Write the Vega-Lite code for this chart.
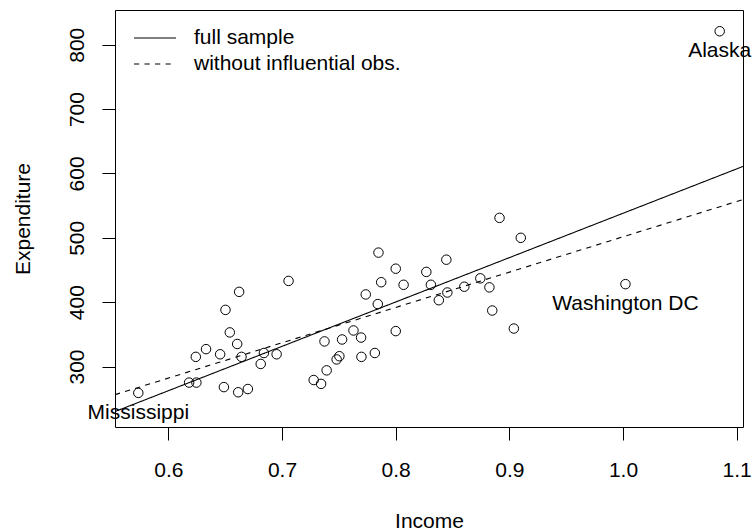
{
  "$schema": "https://vega.github.io/schema/vega-lite/v6.json",
  "width": 628,
  "height": 417,
  "autosize": {"type": "none"},
  "padding": {"left": 115, "top": 10, "right": 12, "bottom": 103},
  "background": "white",
  "config": {
    "font": "Liberation Sans",
    "view": {"stroke": "black", "strokeWidth": 1},
    "axis": {
      "domain": false,
      "grid": false,
      "tickColor": "black",
      "tickSize": 13,
      "tickWidth": 1,
      "labelColor": "black",
      "labelFontSize": 21,
      "titleFontSize": 21,
      "titleFontWeight": "normal",
      "titleColor": "black",
      "labelPadding": 19
    }
  },
  "datasets": {
    "states": [
      {"Income": 0.5736, "Expenditure": 259, "label": "Mississippi"},
      {"Income": 0.7058, "Expenditure": 433},
      {"Income": 0.6623, "Expenditure": 416},
      {"Income": 0.6503, "Expenditure": 388},
      {"Income": 0.6541, "Expenditure": 353},
      {"Income": 0.6606, "Expenditure": 335},
      {"Income": 0.6332, "Expenditure": 327},
      {"Income": 0.6242, "Expenditure": 315},
      {"Income": 0.6456, "Expenditure": 319},
      {"Income": 0.6644, "Expenditure": 315},
      {"Income": 0.6841, "Expenditure": 321},
      {"Income": 0.6953, "Expenditure": 319},
      {"Income": 0.6813, "Expenditure": 304},
      {"Income": 0.6183, "Expenditure": 275},
      {"Income": 0.6247, "Expenditure": 275},
      {"Income": 0.6489, "Expenditure": 268},
      {"Income": 0.6615, "Expenditure": 260},
      {"Income": 0.6700, "Expenditure": 265},
      {"Income": 0.7279, "Expenditure": 279},
      {"Income": 0.7344, "Expenditure": 273},
      {"Income": 0.9101, "Expenditure": 500},
      {"Income": 0.7849, "Expenditure": 477},
      {"Income": 0.8446, "Expenditure": 466},
      {"Income": 0.8001, "Expenditure": 452},
      {"Income": 0.8270, "Expenditure": 447},
      {"Income": 0.7873, "Expenditure": 431},
      {"Income": 0.8070, "Expenditure": 427},
      {"Income": 0.8310, "Expenditure": 427},
      {"Income": 0.8745, "Expenditure": 437},
      {"Income": 0.8604, "Expenditure": 424},
      {"Income": 0.8825, "Expenditure": 423},
      {"Income": 0.8455, "Expenditure": 415},
      {"Income": 0.8380, "Expenditure": 403},
      {"Income": 0.7737, "Expenditure": 412},
      {"Income": 0.7843, "Expenditure": 397},
      {"Income": 0.8850, "Expenditure": 387},
      {"Income": 0.9040, "Expenditure": 359},
      {"Income": 0.8001, "Expenditure": 355},
      {"Income": 0.7629, "Expenditure": 356},
      {"Income": 0.7374, "Expenditure": 339},
      {"Income": 0.7529, "Expenditure": 342},
      {"Income": 0.7696, "Expenditure": 345},
      {"Income": 0.7505, "Expenditure": 316},
      {"Income": 0.7481, "Expenditure": 311},
      {"Income": 0.7699, "Expenditure": 315},
      {"Income": 0.7817, "Expenditure": 321},
      {"Income": 0.7393, "Expenditure": 294},
      {"Income": 0.8914, "Expenditure": 531},
      {"Income": 1.0022, "Expenditure": 428, "label": "Washington DC"},
      {"Income": 1.0851, "Expenditure": 821, "label": "Alaska"}
    ],
    "fits": [
      {"fit": "full sample", "Income": 0.5531, "Expenditure": 230.0},
      {"fit": "full sample", "Income": 1.1056, "Expenditure": 610.9},
      {"fit": "without influential obs.", "Income": 0.5531, "Expenditure": 256.2},
      {"fit": "without influential obs.", "Income": 1.1056, "Expenditure": 559.5}
    ]
  },
  "layer": [
    {
      "data": {"name": "states"},
      "mark": {"type": "point", "shape": "circle", "filled": false, "stroke": "black", "strokeWidth": 1, "size": 90, "opacity": 1},
      "encoding": {
        "x": {
          "field": "Income", "type": "quantitative",
          "scale": {"domain": [0.5531, 1.1056], "nice": false, "zero": false},
          "axis": {
            "values": [0.6, 0.7, 0.8, 0.9, 1.0, 1.1], "format": ".1f",
            "labelFlush": false, "labelOverlap": false,
            "title": "Income", "titleX": 314, "titleY": 94,
            "titleBaseline": "middle", "titleAlign": "center"
          }
        },
        "y": {
          "field": "Expenditure", "type": "quantitative",
          "scale": {"domain": [206, 854], "nice": false, "zero": false},
          "axis": {
            "values": [300, 400, 500, 600, 700, 800],
            "labelAngle": -90, "labelAlign": "center", "labelBaseline": "alphabetic",
            "labelFlush": false, "labelOverlap": false,
            "title": "Expenditure", "titleAngle": -90, "titleX": -92, "titleY": 208.5,
            "titleAlign": "center", "titleBaseline": "middle"
          }
        }
      }
    },
    {
      "data": {"name": "fits"},
      "mark": {"type": "line", "color": "black", "strokeWidth": 1.1, "clip": true},
      "encoding": {
        "x": {"field": "Income", "type": "quantitative"},
        "y": {"field": "Expenditure", "type": "quantitative"},
        "strokeDash": {
          "field": "fit", "type": "nominal",
          "scale": {"domain": ["full sample", "without influential obs."], "range": [[1, 0], [5.25, 5.25]]},
          "legend": {
            "title": null, "orient": "none", "legendX": 28.5, "legendY": 16.5,
            "symbolType": "M-2,0H2", "symbolSize": 441, "symbolStrokeWidth": 1.1,
            "symbolStrokeColor": "black", "symbolFillColor": "transparent",
            "labelFontSize": 21, "labelOffset": 27.5,
            "labelLimit": 0, "labelColor": "black", "rowPadding": 4, "padding": 0
          }
        }
      }
    },
    {
      "data": {"name": "states"},
      "transform": [{"filter": "datum.label != null"}],
      "mark": {"type": "text", "dy": 20, "fontSize": 21, "color": "black", "baseline": "middle", "align": "center"},
      "encoding": {
        "x": {"field": "Income", "type": "quantitative"},
        "y": {"field": "Expenditure", "type": "quantitative"},
        "text": {"field": "label"}
      }
    }
  ]
}
